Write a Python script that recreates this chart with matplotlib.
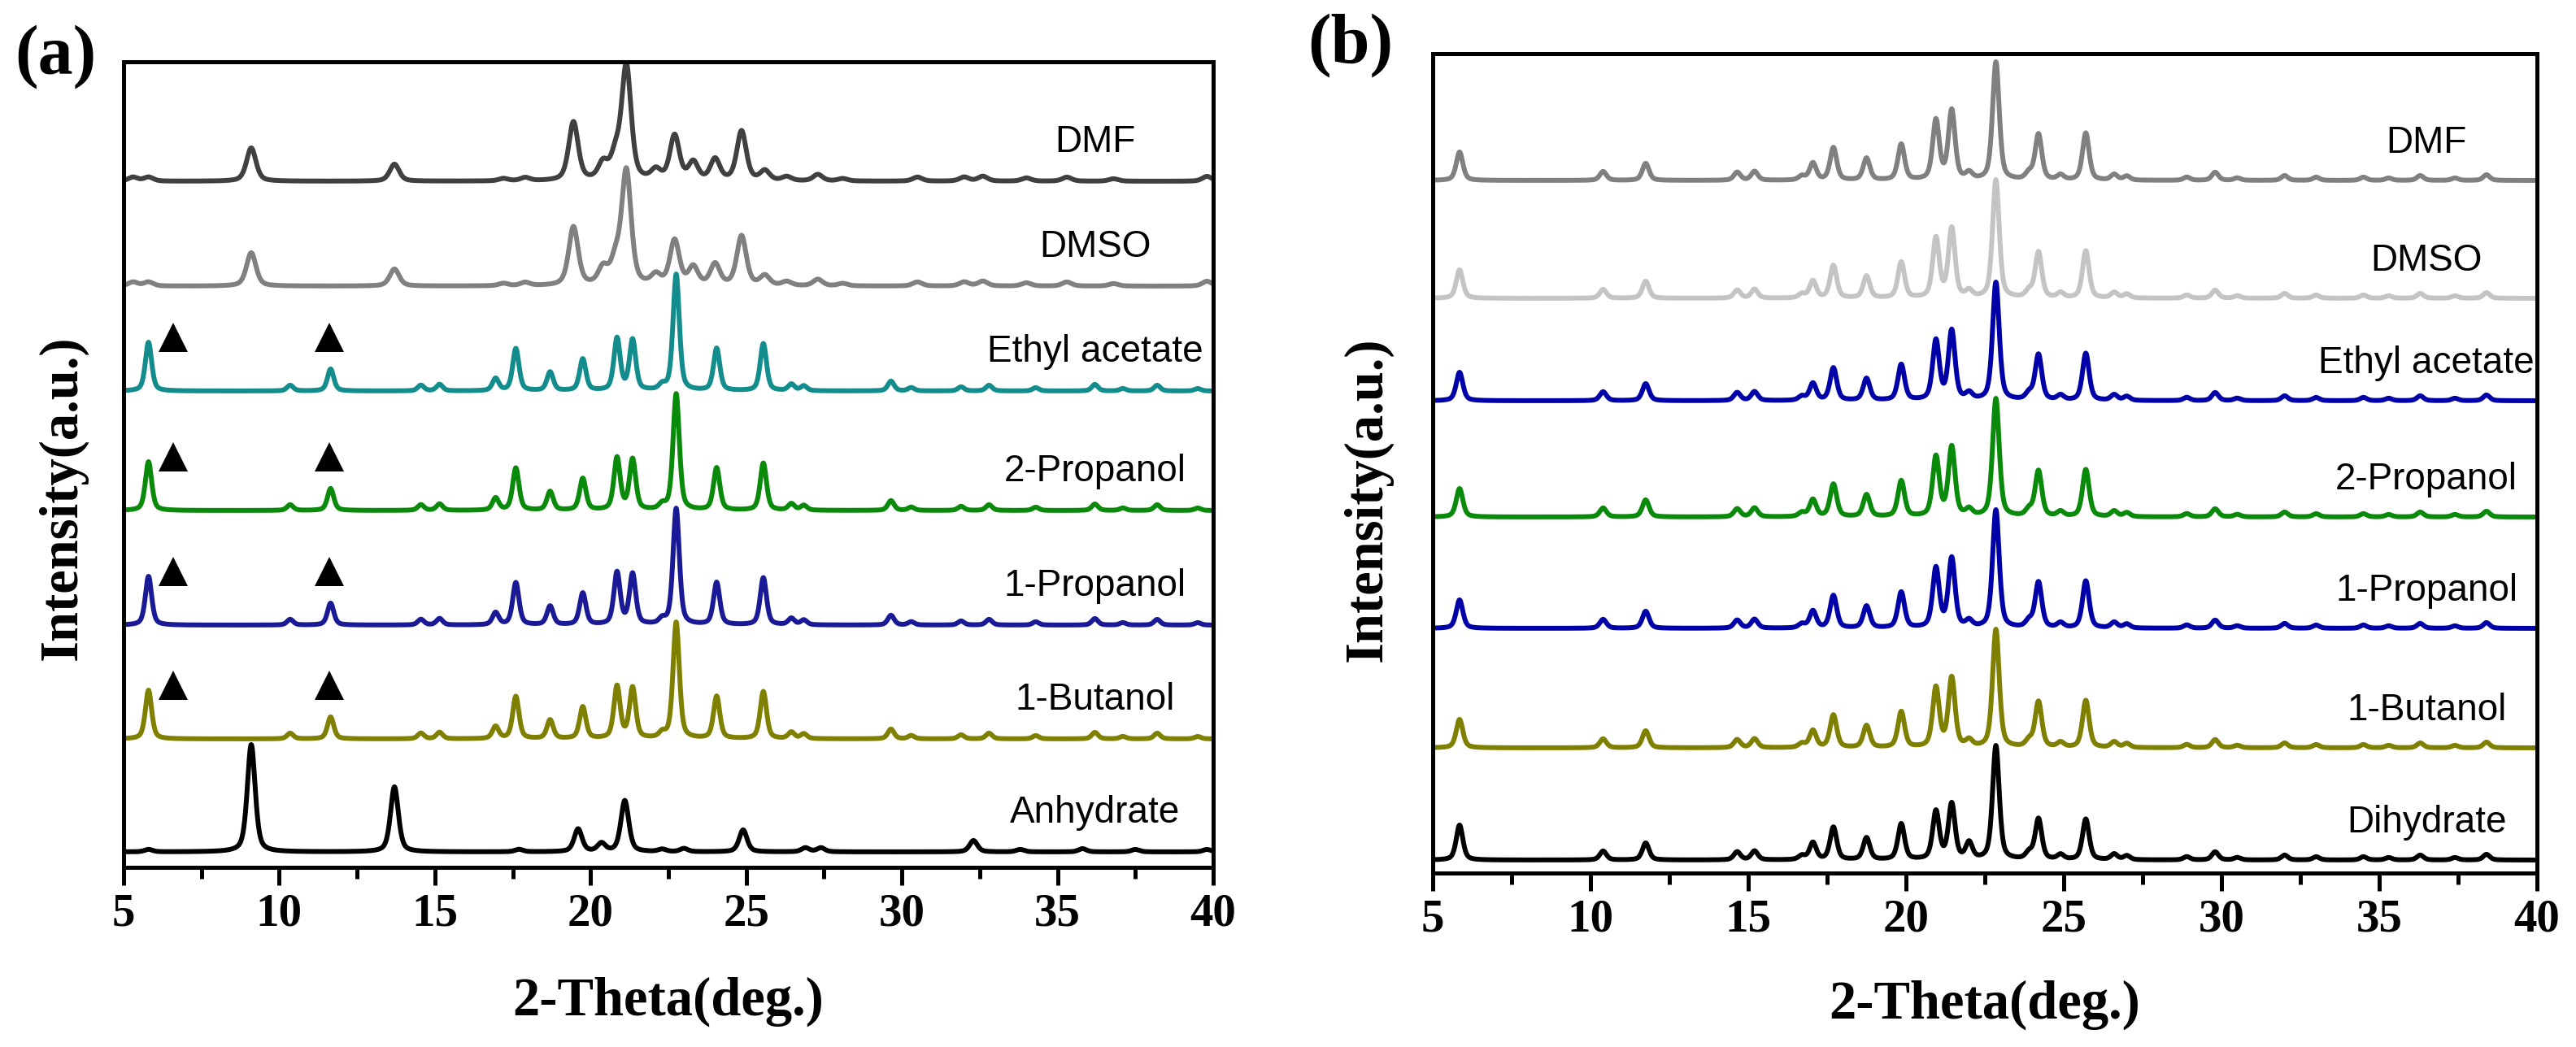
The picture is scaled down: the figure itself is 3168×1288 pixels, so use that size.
import numpy as np
import matplotlib
matplotlib.use('Agg')
import matplotlib.pyplot as plt
from matplotlib.ticker import MultipleLocator

#%% peak tables (2-theta in deg, intensity in a.u.)

# panel (a): solvates (ethyl acetate, 2-propanol, 1-propanol, 1-butanol)
solvate_pos = [5.8, 10.35, 11.65, 14.55, 15.15, 16.95, 17.6, 18.7, 19.75, 20.85,
               21.35, 22.3, 22.75, 24.05, 25.55, 26.45, 26.85, 29.65, 30.3, 31.9,
               32.8, 34.3, 36.2, 37.1, 38.2, 39.5]
solvate_int = [60, 7, 27, 7, 8, 15, 52, 23, 39, 64,
               62, 6, 143, 52, 58, 8, 6, 12, 4, 5,
               7, 4, 8, 3, 7, 3]

# panel (a): DMF / DMSO
dmf_pos = [5.3, 5.8, 9.1, 13.7, 17.2, 17.9, 19.45, 20.4, 20.8, 21.15, 22.1, 22.7,
           23.3, 24.0, 24.85, 25.6, 26.3, 27.3, 28.1, 30.5, 32.0, 32.6, 34.0,
           35.3, 36.8, 39.8]
dmf_int = [5, 5, 41, 21, 3, 4, 72, 20, 28, 140, 12, 55,
           22, 26, 61, 12, 5, 8, 3, 5, 5, 6, 4,
           5, 3, 6]

# panel (a): anhydrate
anh_pos = [5.8, 9.1, 13.7, 17.7, 19.6, 20.35, 21.1, 22.3, 23.0, 24.9, 26.9, 27.4,
           32.3, 33.8, 35.8, 37.5, 39.8]
anh_int = [3, 132, 80, 3, 28, 10, 63, 3, 4, 27, 5, 5,
           14, 3, 4, 3, 3]

# panel (b): dried samples, dihydrate pattern
dih_pos = [5.85, 10.4, 11.75, 14.65, 15.2, 16.7, 17.05, 17.7, 18.75, 19.85, 20.95,
           21.45, 22.0, 22.85, 23.9, 24.2, 24.9, 25.7, 26.6, 27.0, 28.9, 29.8,
           30.5, 32.0, 33.0, 34.5, 35.3, 36.3, 37.4, 38.4]
dried_int = [35, 11, 21, 10, 11, 5, 21, 40, 27, 44, 73,
             85, 8, 145, 8, 56, 6, 58, 7, 5, 4, 10,
             3, 6, 4, 4, 3, 6, 3, 7]
dih_int = [43, 11, 21, 10, 11, 5, 21, 40, 27, 44, 59,
           68, 20, 140, 8, 50, 6, 50, 7, 5, 4, 10,
           3, 6, 4, 4, 3, 6, 3, 7]

labels_a = ['DMF', 'DMSO', 'Ethyl acetate', '2-Propanol', '1-Propanol', '1-Butanol', 'Anhydrate']
labels_b = ['DMF', 'DMSO', 'Ethyl acetate', '2-Propanol', '1-Propanol', '1-Butanol', 'Dihydrate']

#%% styles / layout

colors_a = ['#404040', '#808080', '#128c8c', '#0a8a0a', '#1a1a96', '#808000', '#000000']
colors_b = ['#808080', '#c4c4c4', '#0000a8', '#0a8a0a', '#0000a8', '#808000', '#000000']
offsets_a = [844, 715, 586, 439, 298, 158, 19]
offsets_b = [852, 707, 581, 438, 301, 154, 16]

tt = np.linspace(5, 40, 3501)

def profile(pos, inten, fwhm, eta=0.5):
    #pseudo-voigt sum of the peak list
    y = np.zeros_like(tt)
    hw = fwhm/2.0
    for p, h in zip(pos, inten):
        d = (tt-p)/hw
        y += h*(eta/(1+d**2) + (1-eta)*np.exp(-np.log(2)*d**2))
    return y

pats_a = [(dmf_pos, dmf_int, 0.36), (dmf_pos, dmf_int, 0.36),
          (solvate_pos, solvate_int, 0.24), (solvate_pos, solvate_int, 0.24),
          (solvate_pos, solvate_int, 0.24), (solvate_pos, solvate_int, 0.24),
          (anh_pos, anh_int, 0.30)]
pats_b = [(dih_pos, dried_int, 0.25)]*6 + [(dih_pos, dih_int, 0.25)]

serif = 'Liberation Serif'
sans = 'Liberation Sans'

W, H = 3168, 1288
fig = plt.figure(figsize=(W/100, H/100), dpi=100)
ax_a = fig.add_axes([152/W, (H-1067)/H, (1492-152)/W, (1067-76)/H])
ax_b = fig.add_axes([1762/W, (H-1074)/H, (3120-1762)/W, (1074-66)/H])

def style_axis(ax, ytop):
    ax.set_xlim(5, 40)
    ax.set_ylim(0, ytop)
    ax.set_yticks([])
    ax.xaxis.set_major_locator(MultipleLocator(5))
    ax.xaxis.set_minor_locator(MultipleLocator(2.5))
    ax.tick_params(axis='x', which='major', direction='out', length=16, width=3.6, pad=7)
    ax.tick_params(axis='x', which='minor', direction='out', length=10, width=3.6)
    for s in ax.spines.values():
        s.set_linewidth(3.6)
    for lab in ax.get_xticklabels():
        lab.set_fontfamily(serif)
        lab.set_fontweight('bold')
        lab.set_fontsize(41)

for i in range(7):
    pos, inten, w = pats_a[i]
    ax_a.plot(tt, profile(pos, inten, w)+offsets_a[i], c=colors_a[i], lw=4.3)
    ax_a.text(36.2, offsets_a[i]+48, labels_a[i], ha='center', va='center',
              fontsize=33, family=sans)
    if 2 <= i <= 5:
        #triangles mark the solvate reflections
        ax_a.plot([6.6, 11.6], [offsets_a[i]+66]*2, '^', c='k', ms=26, mew=0)
style_axis(ax_a, 991)

for i in range(7):
    pos, inten, w = pats_b[i]
    ax_b.plot(tt, profile(pos, inten, w)+offsets_b[i], c=colors_b[i], lw=4.3)
    ax_b.text(36.5, offsets_b[i]+46, labels_b[i], ha='center', va='center',
              fontsize=33, family=sans)
style_axis(ax_b, 1008)

lab_kw = dict(family=serif, fontweight='bold', fontsize=48, ha='center', va='center')
fig.text(822/W, 1-1232/H, '2-Theta(deg.)', **lab_kw)
fig.text(2441/W, 1-1236/H, '2-Theta(deg.)', **lab_kw)
fig.text(77/W, 1-612/H, 'Intensity(a.u.)', rotation=90, **lab_kw)
fig.text(1682/W, 1-614/H, 'Intensity(a.u.)', rotation=90, **lab_kw)
fig.text(68/W, 1-70/H, '(a)', family=serif, fontweight='bold', fontsize=62, ha='center', va='center')
fig.text(1661/W, 1-56/H, '(b)', family=serif, fontweight='bold', fontsize=62, ha='center', va='center')

plt.savefig('out.png', dpi=100)
